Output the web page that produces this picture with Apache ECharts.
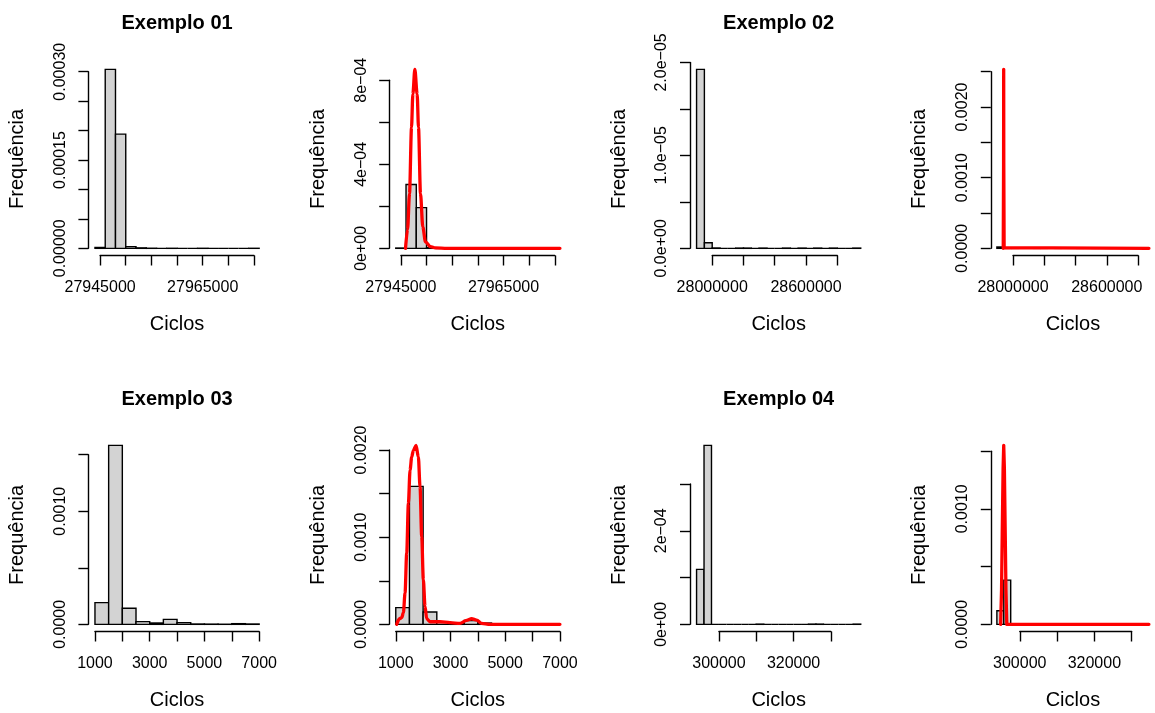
<!DOCTYPE html>
<html>
<head>
<meta charset="utf-8">
<script src="https://cdn.jsdelivr.net/npm/echarts@6/dist/echarts.min.js"></script>
<style>
  html, body { margin: 0; padding: 0; background: #fff; }
  #chart { width: 1155px; height: 713px; }
</style>
</head>
<body>
<div id="chart"></div>
<script>
// --- Exemplo 01 ---
var ex01BinStart = 27944000;
var ex01BinWidth = 2000;
var ex01Density = [0.0000015, 0.000304, 0.000194, 0.0000029, 0.0000008, 0.0000002, 0, 0.0000001,
                   0, 0, 0.0000001, 0, 0, 0, 0, 0.0000001];
var ex01CurveX = [27945900, 27946300, 27946680, 27947070, 27947330, 27947720, 27948170, 27948430,
                  27948820, 27949270, 27949790, 27950760, 27951730, 27954000, 27976000];
var ex01CurveY = [0, 0.00009, 0.00026, 0.000576, 0.000734, 0.000852, 0.000734, 0.000576,
                  0.00026, 0.000102, 0.000031, 0.000008, 0.000002, 0, 0];
var ex01XTicks = [27945000, 27975000, 5000];
var ex01XLabels = [27945000, 27965000];
var ex01HistYTicks = [0, 0.0003, 0.00005];
var ex01HistYLabelVals = [0, 0.00015, 0.0003];
var ex01HistYLabels = ['0.00000', '0.00015', '0.00030'];
var ex01DensYTicks = [0, 0.0008, 0.0002];
var ex01DensYLabelVals = [0, 0.0004, 0.0008];
var ex01DensYLabels = ['0e+00', '4e\u221204', '8e\u221204'];

// --- Exemplo 02 ---
var ex02BinStart = 27900000;
var ex02BinWidth = 50000;
var ex02Density = [0.00001925, 0.0000006, 0.00000004, 0, 0, 0.00000003, 0.00000003, 0, 0.00000003, 0,
                   0, 0.00000003, 0, 0.00000003, 0, 0.00000003, 0, 0.00000003, 0, 0, 0.00000003];
var ex02CurveX = [27944000, 27946300, 27947000, 27947700, 27950000, 28950000];
var ex02CurveY = [0, 0.0012, 0.002533, 0.0012, 0.00001, 0];
var ex02XTicks = [28000000, 28800000, 200000];
var ex02XLabels = [28000000, 28600000];
var ex02HistYTicks = [0, 0.00002, 0.000005];
var ex02HistYLabelVals = [0, 0.00001, 0.00002];
var ex02HistYLabels = ['0.0e+00', '1.0e\u221205', '2.0e\u221205'];
var ex02DensYTicks = [0, 0.0025, 0.0005];
var ex02DensYLabelVals = [0, 0.001, 0.002];
var ex02DensYLabels = ['0.0000', '0.0010', '0.0020'];

// --- Exemplo 03 ---
var ex03BinStart = 1000;
var ex03BinWidth = 500;
var ex03Density = [0.000192, 0.001583, 0.000142, 0.000024, 0.000012, 0.000044,
                   0.000015, 0.000003, 0.000002, 0.000001, 0.000006, 0.000003];
var ex03CurveX = [1035, 1133, 1218, 1279, 1339, 1400, 1461, 1522, 1583, 1643, 1741, 1826, 1887, 1948,
                  2008, 2069, 2130, 2252, 2617, 2982, 3347, 3590, 3772, 3955, 4138, 4442, 5500, 7000];
var ex03CurveY = [0, 0.000064, 0.000076, 0.000133, 0.00036, 0.000817, 0.001388, 0.001768, 0.00192,
                  0.001996, 0.002053, 0.00192, 0.001578, 0.001007, 0.000513, 0.000209, 0.000064,
                  0.00003, 0.00003, 0.000019, 0.000011, 0.000046, 0.000064, 0.000049, 0.000011, 0, 0, 0];
var ex03XTicks = [1000, 7000, 1000];
var ex03XLabels = [1000, 3000, 5000, 7000];
var ex03HistYTicks = [0, 0.0015, 0.0005];
var ex03HistYLabelVals = [0, 0.001];
var ex03HistYLabels = ['0.0000', '0.0010'];
var ex03DensYTicks = [0, 0.002, 0.0005];
var ex03DensYLabelVals = [0, 0.001, 0.002];
var ex03DensYLabels = ['0.0000', '0.0010', '0.0020'];

// --- Exemplo 04 ---
var ex04BinStart = 294000;
var ex04BinWidth = 2000;
var ex04Density = [0.0001176, 0.0003827, 0, 0, 0, 0, 0, 0, 0.0000005, 0, 0,
                   0, 0, 0, 0, 0.0000005, 0.0000005, 0, 0, 0, 0, 0.0000005];
var ex04CurveX = [295090, 295350, 295550, 295800, 295980, 296170, 296420, 296620, 296870, 338000];
var ex04CurveY = [0, 0.0003, 0.00078, 0.00135, 0.00155, 0.00135, 0.00078, 0.0003, 0, 0];
var ex04XTicks = [300000, 330000, 10000];
var ex04XLabels = [300000, 320000];
var ex04HistYTicks = [0, 0.0003, 0.0001];
var ex04HistYLabelVals = [0, 0.0002];
var ex04HistYLabels = ['0e+00', '2e\u221204'];
var ex04DensYTicks = [0, 0.0015, 0.0005];
var ex04DensYLabelVals = [0, 0.001];
var ex04DensYLabels = ['0.0000', '0.0010'];

(function() {
  var FONT = 'Liberation Sans';
  var ink = '#000000';
  var red = '#FF0000';
  var gray = '#D3D3D3';

  // plot regions (R par(mfrow = c(2, 4)))
  var colLeft = [88.4, 389.2, 690.0, 990.8];
  var rowTop = [62.2, 438.2];
  var plotW = 177.3, plotH = 193.3;

  var panels = [
    { title: 'Exemplo 01', start: ex01BinStart, bw: ex01BinWidth, dens: ex01Density, xt: ex01XTicks, xl: ex01XLabels,
      yt: ex01HistYTicks, ylv: ex01HistYLabelVals, ylt: ex01HistYLabels },
    { start: ex01BinStart, bw: ex01BinWidth, dens: ex01Density, cx: ex01CurveX, cy: ex01CurveY, smooth: 0.3,
      xt: ex01XTicks, xl: ex01XLabels, yt: ex01DensYTicks, ylv: ex01DensYLabelVals, ylt: ex01DensYLabels },
    { title: 'Exemplo 02', start: ex02BinStart, bw: ex02BinWidth, dens: ex02Density, xt: ex02XTicks, xl: ex02XLabels,
      yt: ex02HistYTicks, ylv: ex02HistYLabelVals, ylt: ex02HistYLabels },
    { start: ex02BinStart, bw: ex02BinWidth, dens: ex02Density, cx: ex02CurveX, cy: ex02CurveY, smooth: false,
      xt: ex02XTicks, xl: ex02XLabels, yt: ex02DensYTicks, ylv: ex02DensYLabelVals, ylt: ex02DensYLabels },
    { title: 'Exemplo 03', start: ex03BinStart, bw: ex03BinWidth, dens: ex03Density, xt: ex03XTicks, xl: ex03XLabels,
      yt: ex03HistYTicks, ylv: ex03HistYLabelVals, ylt: ex03HistYLabels },
    { start: ex03BinStart, bw: ex03BinWidth, dens: ex03Density, cx: ex03CurveX, cy: ex03CurveY, smooth: 0.3,
      xt: ex03XTicks, xl: ex03XLabels, yt: ex03DensYTicks, ylv: ex03DensYLabelVals, ylt: ex03DensYLabels },
    { title: 'Exemplo 04', start: ex04BinStart, bw: ex04BinWidth, dens: ex04Density, xt: ex04XTicks, xl: ex04XLabels,
      yt: ex04HistYTicks, ylv: ex04HistYLabelVals, ylt: ex04HistYLabels },
    { start: ex04BinStart, bw: ex04BinWidth, dens: ex04Density, cx: ex04CurveX, cy: ex04CurveY, smooth: false,
      xt: ex04XTicks, xl: ex04XLabels, yt: ex04DensYTicks, ylv: ex04DensYLabelVals, ylt: ex04DensYLabels }
  ];

  function pickLabel(vals, texts) {
    return function(v) {
      var tol = Math.abs(vals[vals.length - 1]) * 1e-6;
      for (var k = 0; k < vals.length; k++) {
        if (Math.abs(v - vals[k]) <= tol) return texts[k];
      }
      return '';
    };
  }

  function renderBar(params, api) {
    var topLeft = api.coord([api.value(0), api.value(2)]);
    var bottomRight = api.coord([api.value(1), 0]);
    return {
      type: 'rect',
      shape: { x: topLeft[0], y: topLeft[1], width: bottomRight[0] - topLeft[0], height: bottomRight[1] - topLeft[1] },
      style: { fill: gray, stroke: ink, lineWidth: 1.4 }
    };
  }

  var hidden = { show: false };
  var grid = [], xAxis = [], yAxis = [], series = [], graphic = [];

  panels.forEach(function(p, i) {
    var L = colLeft[i % 4], T = rowTop[Math.floor(i / 4)];
    var n = p.dens.length, b0 = p.start, bN = p.start + n * p.bw;
    var xmin = b0 - 0.04 * (bN - b0), xmax = bN + 0.04 * (bN - b0);
    var ymax = Math.max.apply(null, p.dens.concat(p.cy || []));
    var ymin = -0.04 * ymax, ytop = 1.04 * ymax;
    var px = function(v) { return L + (v - xmin) / (xmax - xmin) * plotW; };
    var py = function(v) { return T + (ytop - v) / (ytop - ymin) * plotH; };
    var g = grid.length;

    // plot region, carries the marks and the axis titles
    grid.push({ left: L, top: T, width: plotW, height: plotH });
    xAxis.push({
      gridIndex: g, type: 'value', min: xmin, max: xmax,
      axisLine: hidden, axisTick: hidden, axisLabel: hidden, splitLine: hidden,
      name: 'Ciclos', nameLocation: 'middle', nameGap: 59,
      nameTextStyle: { fontFamily: FONT, fontSize: 20, color: ink }
    });
    yAxis.push({
      gridIndex: g, type: 'value', min: ymin, max: ytop,
      axisLine: hidden, axisTick: hidden, axisLabel: hidden, splitLine: hidden,
      name: 'Frequência', nameLocation: 'middle', nameGap: 61,
      nameTextStyle: { fontFamily: FONT, fontSize: 20, color: ink }
    });

    // R style x axis: line only between first and last tick
    grid.push({ left: px(p.xt[0]), width: px(p.xt[1]) - px(p.xt[0]), top: T, height: plotH });
    xAxis.push({
      gridIndex: g + 1, type: 'value', min: p.xt[0], max: p.xt[1], interval: p.xt[2], position: 'bottom',
      axisLine: { lineStyle: { color: ink, width: 1.4 } },
      axisTick: { length: 10, lineStyle: { color: ink, width: 1.4 } },
      axisLabel: {
        margin: 24, fontFamily: FONT, fontSize: 16, color: ink, showMinLabel: true, showMaxLabel: true,
        formatter: pickLabel(p.xl, p.xl.map(String))
      },
      splitLine: hidden
    });
    yAxis.push({ gridIndex: g + 1, type: 'value', show: false, min: 0, max: 1 });

    // R style y axis
    grid.push({ left: L, width: plotW, top: py(p.yt[1]), height: py(0) - py(p.yt[1]) });
    xAxis.push({ gridIndex: g + 2, type: 'value', show: false, min: 0, max: 1 });
    yAxis.push({
      gridIndex: g + 2, type: 'value', min: 0, max: p.yt[1], interval: p.yt[2], position: 'left',
      axisLine: { show: true, lineStyle: { color: ink, width: 1.4 } },
      axisTick: { show: true, length: 10, lineStyle: { color: ink, width: 1.4 } },
      axisLabel: {
        rotate: 90, margin: 20, fontFamily: FONT, fontSize: 16, color: ink, showMinLabel: true, showMaxLabel: true,
        formatter: pickLabel(p.ylv, p.ylt)
      },
      splitLine: hidden
    });

    series.push({
      type: 'custom', xAxisIndex: g, yAxisIndex: g, silent: true,
      renderItem: renderBar, encode: { x: [0, 1], y: 2 },
      data: p.dens.map(function(d, k) { return [b0 + k * p.bw, b0 + (k + 1) * p.bw, d]; })
    });

    if (p.cx) {
      series.push({
        type: 'line', xAxisIndex: g, yAxisIndex: g, silent: true, z: 5,
        showSymbol: false, symbol: 'none', smooth: p.smooth, smoothMonotone: 'x',
        lineStyle: { color: red, width: 3.3, join: 'round', cap: 'round' },
        data: p.cx.map(function(x, k) { return [x, p.cy[k]]; })
      });
    }

    if (p.title) {
      graphic.push({
        type: 'text', x: L + plotW / 2, y: T - 38.5, silent: true,
        style: { text: p.title, font: 'bold 20px "' + FONT + '"', fill: ink, align: 'center', verticalAlign: 'middle' }
      });
    }
  });

  var chart = echarts.init(document.getElementById('chart'), null, { renderer: 'canvas' });
  chart.setOption({
    animation: false,
    backgroundColor: '#ffffff',
    textStyle: { fontFamily: FONT },
    grid: grid,
    xAxis: xAxis,
    yAxis: yAxis,
    series: series,
    graphic: graphic
  });

  window.addEventListener('resize', function() {
    chart.resize();
  });
})();
</script>
</body>
</html>
